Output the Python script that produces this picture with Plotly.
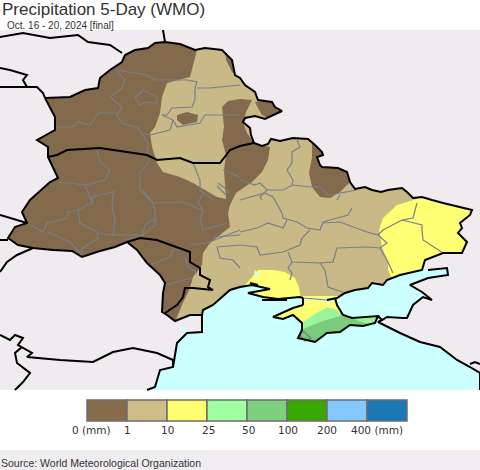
import plotly.graph_objects as go

TITLE = "Precipitation 5-Day (WMO)"
SUBTITLE = "Oct. 16 - 20, 2024 [final]"
SOURCE = "Source: World Meteorological Organization"

BG = "#efebef"
SEA = "#ccffff"
TAN = "#c8b987"
BROWN = "#836a4c"
YELLOW = "#ffff73"
LGREEN = "#9af59a"
GREEN = "#79cc7d"
BORDER = "#7a7f88"

legend_colors = ["#866c4a", "#cfbd88", "#ffff70", "#a0ffa0", "#7fcf80", "#38a800", "#85c8ff", "#1a78b4"]
legend_labels = ["0 (mm)", "1", "10", "25", "50", "100", "200", "400 (mm)"]
legend_label_x = [91, 127, 167, 208, 248, 288, 327, 377]

map_frame = [(0, 30), (0, 390), (480, 390), (480, 30)]

ua_north = [(45, 98), (70, 97), (85, 90), (98, 88), (100, 78), (110, 70), (122, 62), (125, 55), (135, 50), (148, 48),
            (155, 43), (165, 42), (180, 44), (195, 50), (205, 48), (222, 50), (232, 60), (235, 75), (240, 78), (245, 85),
            (255, 92), (258, 100), (272, 102), (275, 107), (282, 111), (272, 116), (265, 119), (255, 116), (245, 118),
            (243, 122), (250, 128), (251, 135), (254, 143), (262, 146), (268, 144), (271, 139), (280, 141), (293, 138),
            (308, 139), (315, 145), (322, 152), (323, 155), (317, 157), (320, 165), (322, 167), (338, 168), (347, 172),
            (350, 182), (355, 189), (365, 187), (372, 190), (381, 192), (388, 190), (402, 188), (407, 192), (413, 198),
            (422, 197), (432, 200), (443, 203), (472, 210), (470, 215), (460, 223), (462, 228), (458, 233), (467, 242),
            (462, 253), (443, 253), (425, 260)]
ua_coast_east = [(422, 270), (400, 275), (387, 280), (383, 285), (372, 283), (368, 288), (355, 290), (345, 293), (337, 298),
                 (327, 300)]
ua_coast_west = [(303, 298), (300, 297), (278, 299), (263, 297), (248, 293), (270, 289), (252, 285), (240, 287),
                 (230, 290), (213, 305), (203, 310), (202, 315), (190, 315), (175, 321)]
ua_west = [(167, 315), (162, 312), (163, 293), (165, 283), (160, 275), (147, 263), (137, 250), (127, 242), (115, 247),
           (100, 251), (82, 257), (72, 251), (53, 250), (33, 248), (18, 245), (8, 238), (15, 227), (27, 223), (22, 212),
           (30, 200), (50, 182), (58, 178), (48, 157), (48, 147), (37, 140), (55, 130), (55, 117), (45, 98)]
crimea_west_top = [(303, 305), (293, 308), (273, 317), (283, 319), (293, 315), (302, 323), (302, 330), (298, 338), (315, 342),
                   (327, 333), (340, 332), (350, 325), (363, 326), (375, 323), (378, 316), (367, 317), (352, 318), (343, 315),
                   (337, 305), (335, 298)]
crimea_north = [(330, 302), (306, 299)]

sea_west = [(147, 390), (155, 387), (160, 370), (173, 367), (177, 343), (187, 333), (202, 332), (202, 315)]
sea_east = [(428, 270), (447, 268), (448, 275), (428, 278), (410, 285), (422, 292), (432, 300), (423, 297), (413, 305),
            (407, 318), (403, 318), (387, 317), (382, 320), (378, 322), (400, 333), (420, 342), (440, 347), (457, 360),
            (470, 367), (480, 373), (480, 390)]

brown_main = [(0, 30), (197, 30), (197, 50), (190, 77), (167, 83), (162, 97), (160, 113), (155, 127), (150, 133),
              (152, 147), (157, 163), (163, 172), (180, 177), (193, 183), (205, 190), (217, 197), (226, 199), (224, 170),
              (226, 155), (222, 140), (224, 127), (222, 107), (228, 101), (240, 99), (252, 100), (246, 112), (243, 122),
              (247, 133), (254, 143), (270, 147), (268, 160), (262, 172), (252, 182), (240, 190), (236, 193), (230, 205),
              (228, 213), (230, 227), (210, 243), (203, 253), (202, 265), (193, 277), (190, 288), (182, 305), (175, 322),
              (150, 340), (0, 340)]
brown_tip = [(255, 102), (275, 100), (290, 111), (272, 120), (262, 115), (258, 108)]
brown_top = [(225, 48), (235, 50), (242, 80), (232, 72), (226, 60)]
brown_east = [(302, 136), (312, 143), (312, 157), (309, 173), (312, 187), (320, 197), (330, 198), (340, 192), (352, 180),
              (345, 165), (325, 150), (315, 135)]
brown_oval = [(177, 115), (187, 112), (198, 115), (197, 122), (183, 125), (177, 120)]
yellow_east = [(420, 198), (397, 205), (383, 218), (379, 230), (382, 247), (388, 262), (388, 270), (395, 285), (480, 285),
               (480, 195)]
yellow_kherson = [(258, 270), (273, 270), (285, 272), (295, 278), (299, 287), (301, 301), (245, 301), (245, 285), (253, 276)]
yellow_crimea = [(265, 296), (340, 296), (340, 345), (265, 345)]
lgreen_crimea = [(303, 322), (318, 312), (328, 307), (337, 310), (342, 318), (365, 316), (382, 312), (382, 330), (295, 348)]
green_crimea = [(295, 348), (297, 332), (303, 329), (320, 322), (340, 316), (352, 318), (364, 323), (374, 324), (374, 348)]

lakes = [[(181, 327), (186, 327), (186, 331), (181, 332)], [(255, 270), (259, 274), (258, 277), (254, 273)]]

black_lines = [
    [(163, 30), (165, 42)],
    [(0, 37), (23, 33), (50, 38), (78, 35), (88, 42), (110, 45), (122, 53)],
    [(0, 68), (10, 70), (27, 75), (23, 80), (27, 87), (0, 87)],
    [(27, 87), (37, 87), (43, 93), (45, 98)],
    [(0, 215), (10, 218), (27, 223)],
    [(0, 240), (8, 240)],
    [(33, 248), (17, 255), (7, 262), (0, 272)],
    [(48, 157), (57, 155), (67, 150), (100, 148), (147, 155), (157, 160), (180, 158), (193, 163), (220, 163), (230, 150),
     (240, 146), (254, 143)],
    [(127, 242), (140, 238), (157, 240), (190, 252), (190, 262), (200, 268), (200, 275), (210, 280), (208, 287), (213, 290),
     (193, 288), (185, 288), (183, 297), (177, 305), (165, 313)],
    [(0, 335), (10, 340), (15, 335), (23, 338), (18, 345), (27, 350), (32, 353), (27, 357), (60, 360), (93, 362), (113, 352),
     (133, 348), (157, 353), (173, 360), (173, 367)],
    [(22, 347), (15, 353), (17, 363), (30, 373), (23, 382), (15, 390)],
    [(303, 298), (303, 305)],
    [(262, 300), (287, 300)],
    [(250, 283), (258, 285)],
    [(470, 364), (475, 362), (480, 364)],
    [(378, 316), (382, 320)],
]

grey_lines = [
    [(117, 72), (125, 80), (122, 88), (110, 97), (117, 103), (122, 107), (117, 115), (122, 123), (138, 128), (143, 135), (148, 143), (147, 155)],
    [(117, 70), (147, 75), (155, 80), (187, 80), (197, 82), (195, 88), (195, 100), (192, 107), (172, 108), (167, 115), (162, 115), (173, 120), (170, 130), (150, 135), (143, 133)],
    [(197, 88), (210, 88), (220, 87), (240, 85)],
    [(173, 120), (177, 127), (200, 123), (205, 115), (220, 115), (240, 115)],
    [(57, 127), (72, 127), (78, 122), (90, 125), (98, 113), (117, 113)],
    [(135, 98), (143, 90), (157, 97), (157, 103), (145, 102), (140, 105), (135, 98)],
    [(97, 150), (100, 162), (110, 170), (105, 180), (87, 185), (63, 183), (58, 182)],
    [(150, 160), (140, 173), (140, 190), (153, 203)],
    [(85, 185), (87, 190), (92, 203)],
    [(193, 163), (200, 180), (200, 190), (213, 200)],
    [(223, 170), (240, 177)],
    [(218, 183), (230, 192), (225, 194), (217, 186)],
    [(27, 223), (43, 232), (47, 223), (67, 218), (68, 212), (78, 210), (92, 203), (92, 197), (113, 192)],
    [(78, 210), (80, 223), (97, 232), (98, 238), (83, 248), (80, 255)],
    [(47, 232), (60, 238), (70, 242), (80, 253)],
    [(98, 233), (113, 235), (143, 235), (155, 225), (155, 212), (153, 203), (143, 190)],
    [(113, 235), (115, 220), (112, 207), (113, 195), (115, 190)],
    [(153, 203), (183, 202), (197, 208), (203, 210), (198, 203), (203, 193)],
    [(143, 235), (145, 225), (155, 218)],
    [(203, 210), (200, 220), (203, 230), (227, 223)],
    [(125, 240), (143, 235)],
    [(150, 265), (170, 257), (173, 250), (187, 250)],
    [(167, 285), (183, 280), (193, 278)],
    [(185, 257), (188, 267), (197, 273)],
    [(190, 245), (207, 243), (240, 230)],
    [(213, 237), (240, 235)],
    [(217, 247), (220, 258), (233, 260), (240, 268)],
    [(217, 247), (240, 245)],
    [(240, 200), (257, 195), (265, 193), (273, 197), (282, 213), (283, 218), (297, 222), (307, 228), (320, 230), (323, 222), (348, 215), (352, 208)],
    [(240, 232), (257, 228), (268, 223), (283, 228), (287, 220)],
    [(310, 230), (302, 238), (300, 245), (283, 252), (260, 255), (257, 247), (240, 245)],
    [(323, 223), (340, 222), (367, 232), (378, 235), (383, 230), (402, 220), (413, 218), (417, 203)],
    [(402, 220), (422, 225), (422, 230), (423, 240), (443, 253)],
    [(378, 235), (387, 243), (380, 248), (367, 247), (337, 248), (333, 262), (320, 263), (292, 262), (288, 252)],
    [(292, 262), (288, 268), (292, 273), (290, 280)],
    [(320, 263), (325, 270), (328, 287), (345, 293)],
    [(380, 248), (388, 262), (393, 273)],
    [(240, 180), (255, 185), (260, 183), (267, 190), (283, 190), (293, 185), (310, 187), (320, 187), (328, 195), (357, 190)],
    [(297, 140), (300, 147), (292, 152), (292, 163), (287, 170), (293, 180), (292, 185)],
    [(267, 190), (260, 197), (262, 200)],
    [(337, 200), (340, 195)],
    [(300, 333), (304, 332), (311, 338), (305, 341), (300, 335)],
    [(303, 298), (327, 300)],
]


def fill(points, color, fig):
    xs = [p[0] if p else None for p in points]
    ys = [p[1] if p else None for p in points]
    fig.add_trace(go.Scatter(x=xs, y=ys, mode="lines", fill="toself", fillcolor=color,
                             line=dict(width=0), hoverinfo="skip", showlegend=False))


def stroke(points, color, width, fig):
    fig.add_trace(go.Scatter(x=[p[0] for p in points], y=[p[1] for p in points], mode="lines",
                             line=dict(color=color, width=width), hoverinfo="skip", showlegend=False))


fig = go.Figure()

# precipitation fields; everything outside the country gets covered below
fill(map_frame, TAN, fig)
for poly in (brown_main, brown_tip, brown_top, brown_east, brown_oval):
    fill(poly, BROWN, fig)
for poly in (yellow_east, yellow_kherson, yellow_crimea):
    fill(poly, YELLOW, fig)
fill(lgreen_crimea, LGREEN, fig)
fill(green_crimea, GREEN, fig)

# surrounding land with the country and Crimea cut out
ua_coast = ua_coast_east + ua_coast_west
ukraine = ua_north + ua_coast + ua_west
crimea = crimea_north + [crimea_west_top[0]] + crimea_west_top[1:]  # anticlockwise ring
crimea_cw = crimea[::-1]
fill(map_frame + [map_frame[0], None] + ukraine + [None] + crimea_cw, BG, fig)

# sea, following the coast, with Crimea cut out
sea = sea_west + ua_coast[::-1] + sea_east
fill(sea + [sea[0], None] + crimea, SEA, fig)
for lake in lakes:
    fill(lake, SEA, fig)

for line in grey_lines:
    stroke(line, BORDER, 1.2, fig)
stroke(ua_north + ua_coast_east, "#000000", 2, fig)
stroke(ua_coast_west + ua_west, "#000000", 2, fig)
stroke(crimea_west_top, "#000000", 2, fig)
stroke(sea_west, "#000000", 2, fig)
stroke(sea_east, "#000000", 2, fig)
for line in black_lines:
    stroke(line, "#000000", 2, fig)

# footer band
fill([(0, 450), (0, 470), (480, 470), (480, 450)], "#efedf0", fig)

# colour bar
n = len(legend_colors)
fig.add_trace(go.Bar(x=[87 + 40 * (i + 0.5) for i in range(n)], y=[-21] * n, base=421, width=40,
                     marker=dict(color=legend_colors, line=dict(color="#6e6e6e", width=1.5)),
                     hoverinfo="skip", showlegend=False))


def text(x, y, s, size, family, color="#333333", anchor="left"):
    fig.add_annotation(x=x, y=y, text=s, showarrow=False, xanchor=anchor, yanchor="middle",
                       font=dict(family=family, size=size, color=color), xref="x", yref="y",
                       borderpad=0, borderwidth=0)


text(2, 9.8, TITLE, 17, "Liberation Sans")
text(7, 25, SUBTITLE, 10, "Liberation Sans")
text(1, 463, SOURCE, 10.5, "Liberation Sans")
for x, lab in zip(legend_label_x, legend_labels):
    text(x, 430, lab, 10.5, "DejaVu Sans", anchor="center")

axis = dict(visible=False, showgrid=False, zeroline=False, fixedrange=True)
fig.update_layout(width=480, height=470, margin=dict(l=0, r=0, t=0, b=0),
                  paper_bgcolor="#ffffff", plot_bgcolor="#ffffff", showlegend=False,
                  xaxis=dict(range=[0, 480], **axis),
                  yaxis=dict(range=[470, 0], **axis))
fig.write_html("out.html", config=dict(displayModeBar=False),
               post_script="document.body.style.margin='0';document.body.style.overflow='hidden';")
